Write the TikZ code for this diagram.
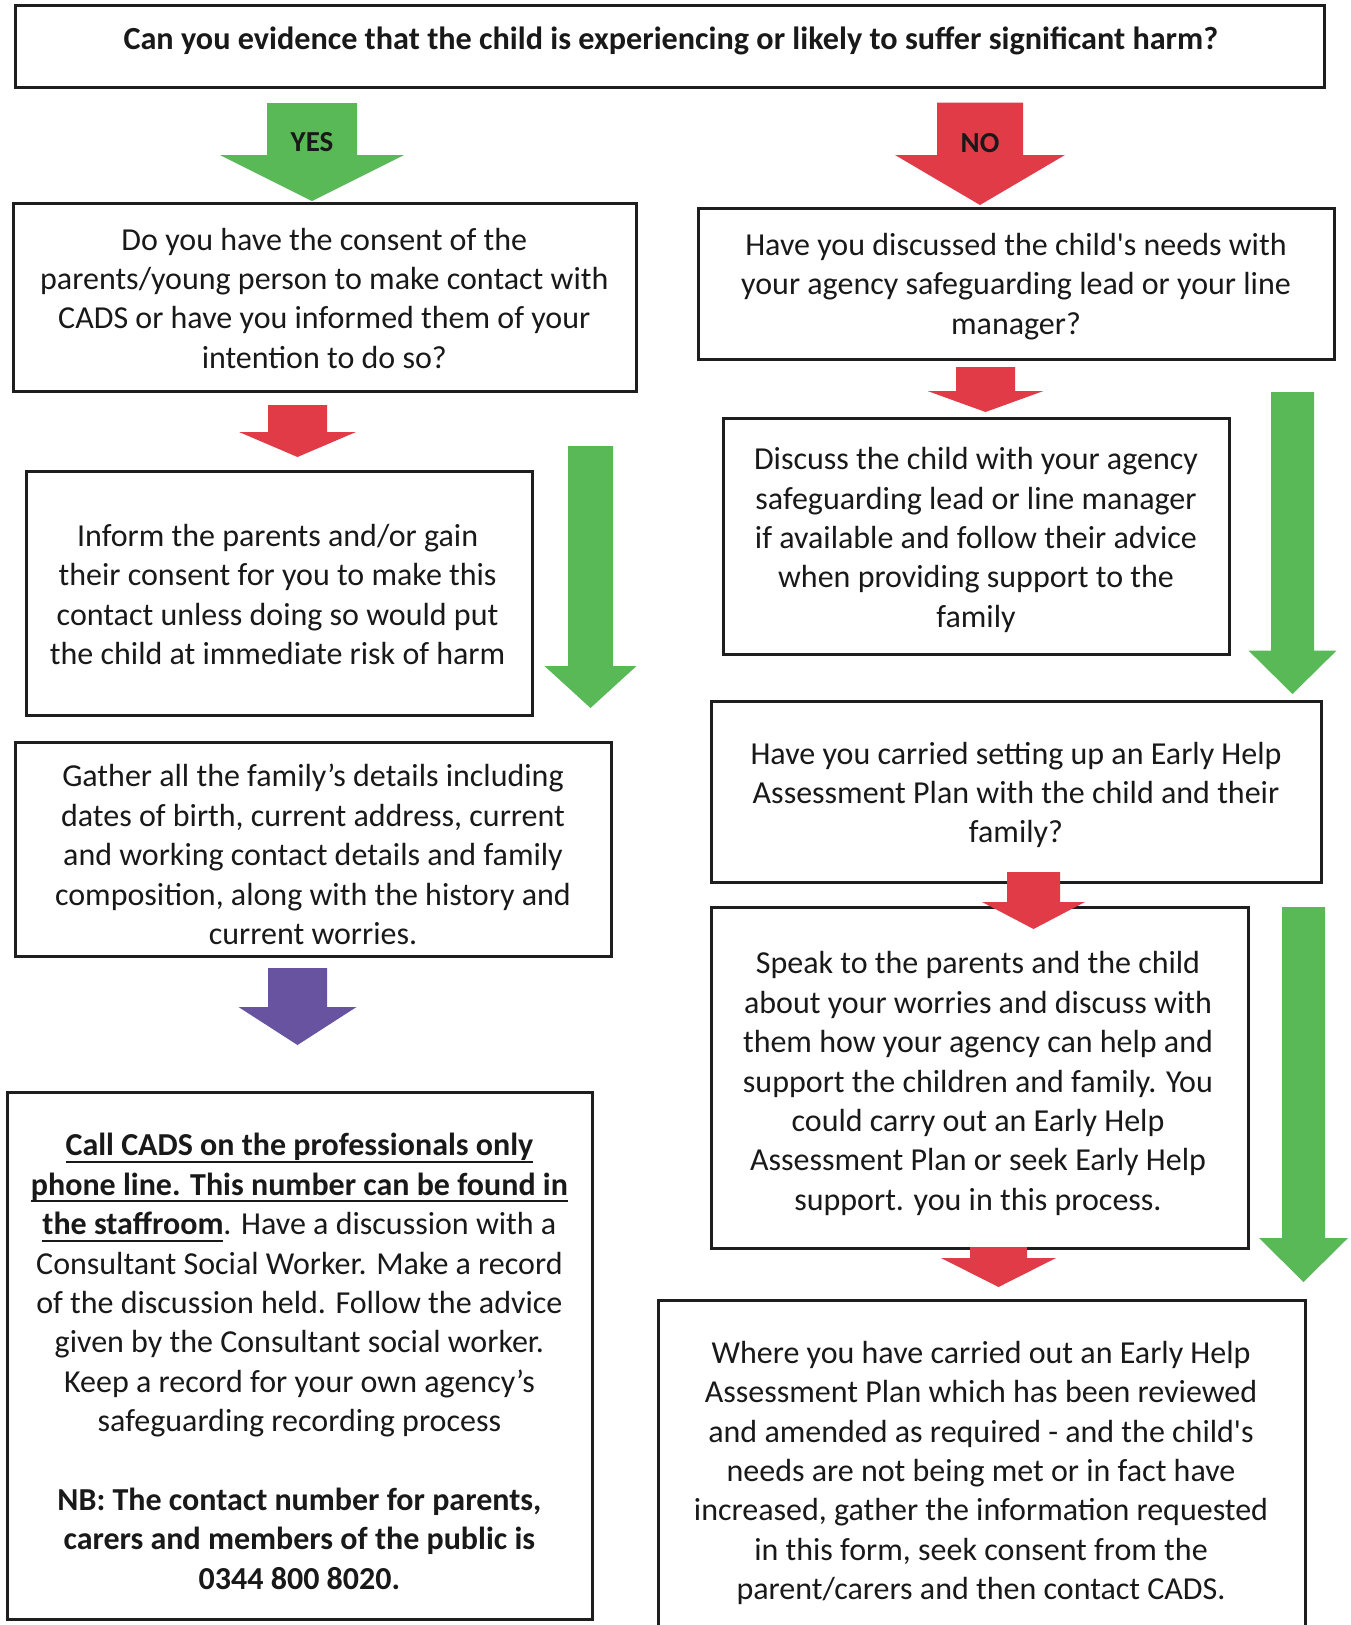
\documentclass[tikz,border=0pt]{standalone}
\usepackage{fontspec}
\setmainfont{Carlito}
\newfontfamily\bodyfont{Carlito}
\definecolor{agreen}{RGB}{88,185,86}
\definecolor{ared}{RGB}{226,59,72}
\definecolor{apurple}{RGB}{103,83,160}
\definecolor{edge}{RGB}{30,30,30}
\definecolor{ink}{RGB}{25,25,25}
\newcommand\ulin[1]{\setbox0\hbox{#1}\rlap{\rule[-7pt]{\wd0}{2.2pt}}\box0}
% name, colour, centre x, top y, shaft half width, head y, head half width, tip y
\newcommand\blockarrow[8]{%
  \fill[#2] ({#3-#5},#4) -- ({#3+#5},#4) -- ({#3+#5},#6) -- ({#3+#7},#6)
    -- (#3,#8) coordinate (#1) -- ({#3-#7},#6) -- ({#3-#5},#6) -- cycle;}
\begin{document}
\begin{tikzpicture}[x=1pt,y=-1pt,
  box/.style={draw=edge, line width=3pt, fill=white, rectangle, inner sep=0pt},
  txt/.style={align=center, inner sep=0pt, text=ink, font=\bodyfont\fontsize{32}{39.4}\selectfont},
  lbl/.style={inner sep=0pt, text=ink, font=\bodyfont\fontsize{29}{34}\selectfont\bfseries}]
\clip (0,0) rectangle (1351,1625);
\fill[white] (0,0) rectangle (1351,1625);

% boxes
\node[box, minimum width=1308.5pt, minimum height=82pt] (q) at (669.75,46) {};
\node[box, minimum width=622.5pt, minimum height=188.6pt] (a) at (324.75,297.3) {};
\node[box, minimum width=636pt, minimum height=151.5pt] (b) at (1016,283.75) {};
\node[box, minimum width=506pt, minimum height=244pt] (c) at (279,593) {};
\node[box, minimum width=595.5pt, minimum height=214pt] (d) at (313.25,849) {};
\node[box, minimum width=585.6pt, minimum height=527pt] (e) at (299.8,1355.5) {};
\node[box, minimum width=506pt, minimum height=236pt] (f) at (976,536) {};
\node[box, minimum width=609.3pt, minimum height=181pt] (g) at (1016.35,791.9) {};
\node[box, minimum width=536.3pt, minimum height=341pt] (h) at (979.85,1077.5) {};
\node[box, minimum width=647.4pt, minimum height=360pt] (i) at (981.7,1480) {};

% texts
\node[txt, font=\bodyfont\fontsize{32.2}{38}\selectfont\bfseries] (qt) at (670.8,40.5)
  {Can you evidence that the child is experiencing or likely to suffer significant harm?};
\node[txt] (at) at (324.3,298.3) {Do you have the consent of the\\parents/young person to make contact with\\CADS or have you informed them of your\\intention to do so?};
\node[txt] (bt) at (1016,286.5) {Have you discussed the child's needs with\\your agency safeguarding lead or your line\\manager?};
\node[txt] (ct) at (277.6,594.6) {Inform the parents and/or gain\\their consent for you to make this\\contact unless doing so would put\\the child at immediate risk of harm};
\node[txt] (dt) at (313,854.6) {Gather all the family’s details including\\dates of birth, current address, current\\and working contact details and family\\composition, along with the history and\\current worries.};
\node[txt] (et) at (299.4,1361.5) {\textbf{\ulin{Call CADS on the professionals only}}\\
  \textbf{\ulin{phone line. This number can be found in}}\\
  \textbf{\ulin{the staffroom}}. Have a discussion with a\\
  Consultant Social Worker. Make a record\\
  of the discussion held. Follow the advice\\
  given by the Consultant social worker.\\
  Keep a record for your own agency’s\\
  safeguarding recording process\\
  \mbox{}\\
  \textbf{NB: The contact number for parents,}\\
  \textbf{carers and members of the public is}\\
  \textbf{0344 800 8020.}};
\node[txt] (ft) at (976,540) {Discuss the child with your agency\\safeguarding lead or line manager\\if available and follow their advice\\when providing support to the\\family};
\node[txt] (gt) at (1016,795) {Have you carried setting up an Early Help\\Assessment Plan with the child and their\\family?};
\node[txt] (ht) at (978,1083.5) {Speak to the parents and the child\\about your worries and discuss with\\them how your agency can help and\\support the children and family. You\\could carry out an Early Help\\Assessment Plan or seek Early Help\\support. you in this process.};
\node[txt] (it) at (981,1473) {Where you have carried out an Early Help\\Assessment Plan which has been reviewed\\and amended as required - and the child's\\needs are not being met or in fact have\\increased, gather the information requested\\in this form, seek consent from the\\parent/carers and then contact CADS.};

% block arrows
\blockarrow{yestip}{agreen}{312}{103}{45}{155}{92}{201}
\blockarrow{notip}{ared}{980}{102.7}{43}{155}{85}{205}
\blockarrow{a1tip}{ared}{297.5}{405}{29.5}{432}{58.5}{457}
\blockarrow{gl}{agreen}{590.5}{446}{22.5}{666}{46}{708}
\blockarrow{ptip}{apurple}{297.5}{968}{29.5}{1007}{59}{1045}
\blockarrow{b1tip}{ared}{985.5}{367}{29.5}{391}{58}{412}
\blockarrow{gr1}{agreen}{1292.5}{392}{21.5}{650.6}{44}{694}
\blockarrow{g1tip}{ared}{1033.5}{872}{26.5}{902}{51.5}{929}
\blockarrow{gr2}{agreen}{1303.5}{907}{21.5}{1238}{44.5}{1282}
\blockarrow{h1tip}{ared}{998.5}{1247}{28.5}{1258}{57.5}{1287}

\node[lbl] (yes) at (312,142) {YES};
\node[lbl] (no) at (980,143) {NO};
\end{tikzpicture}
\end{document}
